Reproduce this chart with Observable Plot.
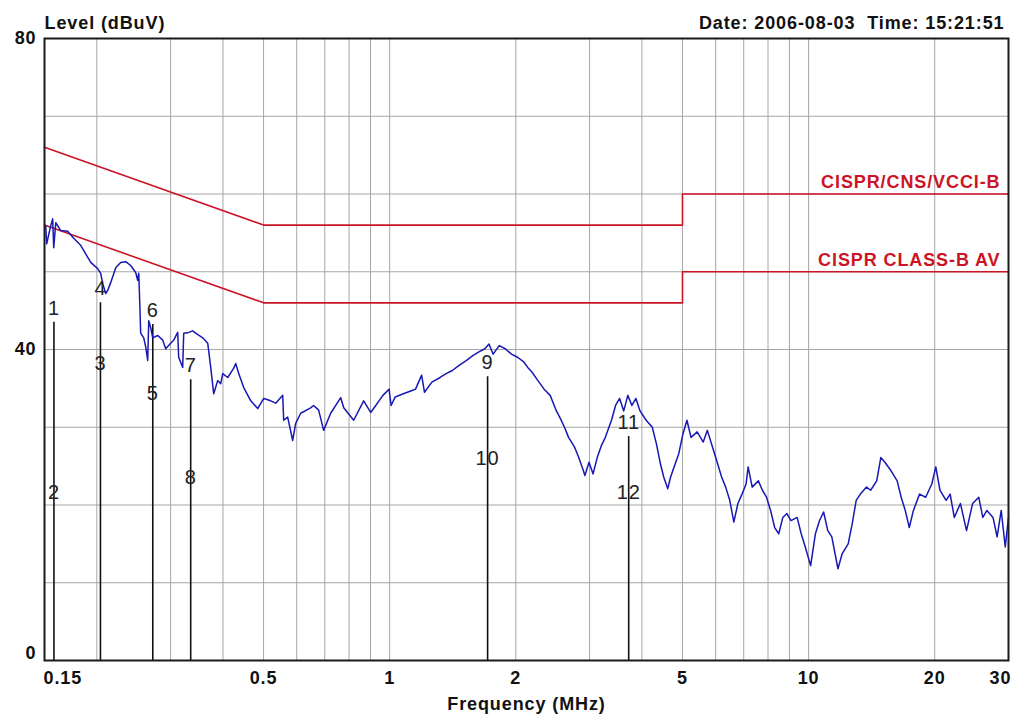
<!DOCTYPE html>
<html><head><meta charset="utf-8">
<script src="https://cdn.jsdelivr.net/npm/d3@7"></script>
<script src="https://cdn.jsdelivr.net/npm/@observablehq/plot@0.6"></script>
<style>
body{margin:0;background:#fff;}
svg text{letter-spacing:0.9px;}
</style>
</head><body><div id="chart"></div>
<script>
// measured trace (frequency in MHz, level in dBuV)
const freq = [
0.1510,0.1518,0.1552,0.1569,0.1578,0.1596,0.1640,0.1704,0.1761,0.1830,
0.1881,0.1934,0.2009,0.2043,0.2065,0.2100,0.2123,0.2158,0.2219,0.2280,
0.2344,0.2409,0.2476,0.2503,0.2518,0.2531,0.2545,0.2588,0.2617,0.2645,
0.2660,0.2689,0.2719,0.2795,0.2873,0.2920,0.3001,0.3051,0.3119,0.3136,
0.3206,0.3224,0.3313,0.3387,0.3443,0.3579,0.3679,0.3740,0.3802,0.3886,
0.3951,0.3995,0.4106,0.4244,0.4291,0.4362,0.4484,0.4660,0.4842,0.5005,
0.5200,0.5346,0.5555,0.5585,0.5709,0.5868,0.5966,0.6133,0.6477,0.6585,
0.6768,0.6957,0.7230,0.7641,0.7768,0.8206,0.8668,
0.901,0.921,0.9636,0.9966,1.008,1.031,1.078,1.127,1.153,1.192,
1.211,1.261,1.319,1.364,1.411,1.459,1.526,1.579,1.633,1.688,
1.726,1.766,1.826,1.888,1.953,2.020,2.089,2.136,2.185,2.259,
2.337,2.416,2.500,2.556,2.614,2.673,2.765,2.827,2.892,2.924,
2.991,3.059,3.129,3.199,3.272,3.384,3.461,3.539,3.620,3.702,
3.786,3.871,3.959,4.095,4.235,4.331,4.429,4.509,4.611,4.684,
4.790,4.899,5.010,5.124,5.240,5.419,5.604,5.731,5.861,6.035,
6.199,6.339,6.483,6.630,6.780,6.935,7.092,7.172,7.334,7.586,
7.758,7.934,8.113,8.298,8.486,8.678,8.875,9.076,9.388,9.601,
9.818,10.11,10.38,10.62,10.86,11.11,11.36,11.75,12.02,12.43,
12.71,12.99,13.29,13.75,14.06,14.54,14.87,15.21,15.73,16.27,
16.63,17.01,17.39,17.79,18.40,19.03,19.68,20.12,20.58,21.29,
21.77,22.27,23.03,23.82,24.63,25.47,26.05,26.64,27.55,28.18,
28.82,29.47,30.0];
const level = [
55.9,53.6,55.9,56.8,53.1,56.3,55.3,55.2,54.3,53.4,
52.3,51.2,50.4,49.8,48.5,47.2,47.6,48.6,50.5,51.2,
51.3,50.8,49.9,48.9,49.8,46.3,42.1,41.5,40.3,38.6,
43.7,42.8,41.5,41.8,41.2,40.1,40.8,41.2,42.2,39.0,
37.7,42.1,42.2,42.4,42.1,41.5,40.8,37.7,34.3,36.0,
35.6,36.9,36.4,37.6,38.2,36.9,35.1,33.4,32.4,33.7,
33.4,33.1,34.1,30.9,31.3,28.3,30.5,31.8,32.5,32.8,
32.2,29.6,31.8,33.8,32.5,30.9,33.4,
31.9,32.6,34.1,34.9,32.8,33.9,34.3,34.7,34.9,36.7,
34.5,35.8,36.4,36.9,37.3,37.9,38.6,39.2,39.7,40.1,
40.7,39.4,40.5,40.1,39.4,39.0,38.4,37.7,37.1,36.0,
34.9,34.1,32.1,31.1,30.0,28.7,27.4,26.1,24.6,23.8,
25.5,24.0,26.1,27.6,28.7,30.9,32.8,33.7,32.1,34.1,
32.8,33.7,32.1,30.9,30.0,27.9,25.3,23.6,22.1,23.6,
25.1,26.6,29.1,30.9,28.7,29.4,28.1,29.6,27.9,25.7,
23.6,22.3,20.6,17.8,20.2,21.4,22.7,24.9,22.3,23.1,
21.9,21.0,19.3,17.1,16.3,18.4,18.9,18.0,18.4,16.3,
14.6,12.2,16.3,18.0,19.1,16.7,15.9,11.8,13.7,15.0,
17.6,20.6,21.4,22.3,21.9,23.1,26.1,25.5,24.4,23.1,
21.0,19.3,17.1,19.3,21.4,21.0,22.7,24.9,21.9,20.6,
21.4,18.4,20.2,16.7,20.2,21.0,18.4,19.3,18.4,15.9,
19.3,14.6,18.4];

// markers
const markerNo    = [1,2,3,4,5,6,7,8,9,10,11,12];
const markerFreq  = [0.158,0.158,0.204,0.204,0.272,0.272,0.335,0.335,1.713,1.713,3.72,3.72];
const markerLevel = [43.5,19.8,36.4,46.0,32.5,43.2,36.1,21.7,36.5,24.2,28.8,19.8];

// limit lines
const limitFreq = [0.15,0.5,5,5,30];
const qpLevel   = [66,56,56,60,60];
const avLevel   = [56,46,46,50,50];
const limitNames = ["CISPR/CNS/VCCI-B","CISPR CLASS-B AV"];

// axes
const xTicks = [0.15,0.5,1,2,5,10,20,30];
const xGrid  = [0.2,0.3,0.4,0.5,0.6,0.7,0.8,0.9,1,2,3,4,5,6,7,8,9,10,20];
const yTicks = [0,40,80];
const yGrid  = [10,20,30,40,50,60,70];
const yTitle = "Level (dBuV)";
const xTitle = "Frequency (MHz)";
const stamp  = "Date: 2006-08-03  Time: 15:21:51";

const font = "Liberation Sans, Arial, Helvetica, sans-serif";
const trace = freq.map((f,i)=>({f, v:level[i]}));
const markers = markerNo.map((n,i)=>({n:String(n), f:markerFreq[i], v:markerLevel[i]}));
const pairs = d3.groups(markers, d=>d.f).map(([f,ms])=>({f, top:d3.max(ms,d=>d.v)}));
const qp = limitFreq.map((f,i)=>({f, v:qpLevel[i]}));
const av = limitFreq.map((f,i)=>({f, v:avLevel[i]}));
const limitLabels = [
  {name:limitNames[0], f:limitFreq.at(-1), v:qpLevel.at(-1)},
  {name:limitNames[1], f:limitFreq.at(-1), v:avLevel.at(-1)}
];
const red = "#cc1426";
const axisFont = {fontSize:18, fontWeight:"bold", fill:"#111", tickSize:0, label:null, tickFormat:d=>String(d)};

const chart = Plot.plot({
  width:1029, height:716,
  marginLeft:44, marginRight:21, marginTop:38, marginBottom:56,
  x:{type:"log", domain:[0.15,30], label:null},
  y:{domain:[0,80], label:null},
  style:{fontFamily:font, background:"#fff", color:"#111"},
  marks:[
    Plot.gridX(xGrid, {stroke:"#a6a6a6", strokeOpacity:1, strokeWidth:1}),
    Plot.gridY(yGrid, {stroke:"#a6a6a6", strokeOpacity:1, strokeWidth:1}),
    Plot.ruleX(pairs, {x:"f", y1:0, y2:"top", stroke:"#111", strokeWidth:1.6}),
    Plot.line(qp, {x:"f", y:"v", stroke:red, strokeWidth:1.6}),
    Plot.line(av, {x:"f", y:"v", stroke:red, strokeWidth:1.6}),
    Plot.line(trace, {x:"f", y:"v", stroke:"#1818b4", strokeWidth:1.5}),
    Plot.text(markers, {x:"f", y:"v", text:"n", dy:-14, fontSize:20, fill:"#222"}),
    Plot.text(limitLabels, {x:"f", y:"v", text:"name", textAnchor:"end", dx:-8, dy:-12, fontSize:18, fontWeight:"bold", fill:red}),
    Plot.axisX({...axisFont, ticks:xTicks.slice(1,-1), tickPadding:11}),
    Plot.axisX({...axisFont, ticks:[xTicks[0]], tickPadding:11, textAnchor:"start", dx:-1}),
    Plot.axisX({...axisFont, ticks:[xTicks.at(-1)], tickPadding:11, dx:-8}),
    Plot.axisY({...axisFont, ticks:yTicks.slice(1), tickPadding:8}),
    Plot.axisY({...axisFont, ticks:[yTicks[0]], tickPadding:8, dy:-7}),
    Plot.text([xTitle], {frameAnchor:"bottom", dy:37, lineAnchor:"top", fontSize:18, fontWeight:"bold", fill:"#111"}),
    Plot.text([yTitle], {frameAnchor:"top-left", dy:-10, lineAnchor:"bottom", textAnchor:"start", fontSize:18, fontWeight:"bold", fill:"#111"}),
    Plot.text([stamp], {frameAnchor:"top-right", dx:-4, dy:-10, lineAnchor:"bottom", textAnchor:"end", fontSize:18, fontWeight:"bold", fill:"#111"}),
    Plot.frame({stroke:"#1a1a1a", strokeWidth:2})
  ]
});
document.getElementById("chart").appendChild(chart);
</script>
</body></html>
